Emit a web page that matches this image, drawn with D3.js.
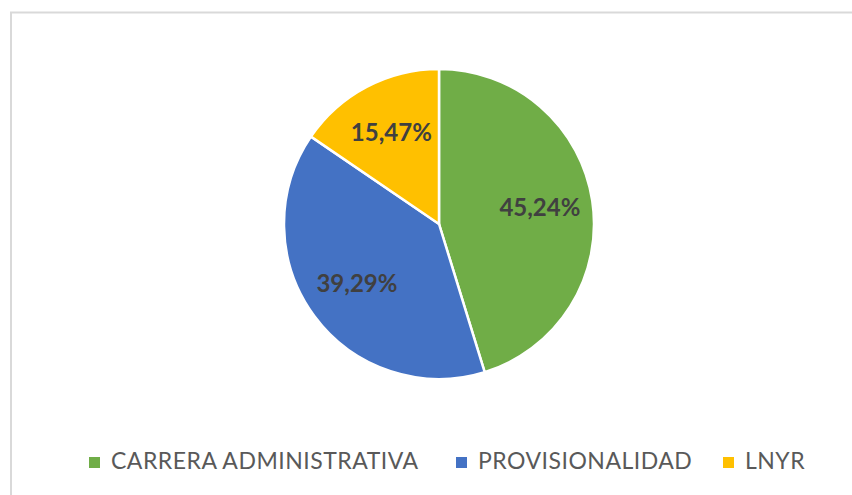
<!DOCTYPE html>
<html>
<head>
<meta charset="utf-8">
<script src="https://cdn.jsdelivr.net/npm/d3@7"></script>
<style>
  body { margin: 0; background: #fff; }
  text { font-family: Lato, "Open Sans", sans-serif; }
</style>
</head>
<body>
<script>
// data
var categories = ["CARRERA ADMINISTRATIVA", "PROVISIONALIDAD", "LNYR"];
var values = [45.24, 39.29, 15.47];
var colors = ["#70ad47", "#4472c4", "#ffc000"];

var w = 852, h = 495;
var cx = 439, cy = 224, r = 155;

var svg = d3.select("body").append("svg")
  .attr("width", w)
  .attr("height", h);

// chart frame (only left and top edges visible)
svg.append("path")
  .attr("d", "M11," + h + " V12.5 H" + w)
  .attr("fill", "none")
  .attr("stroke", "#d9d9d9")
  .attr("stroke-width", 2);

var data = categories.map(function(c, i) { return {name: c, value: values[i], color: colors[i]}; });

var pie = d3.pie().sort(null).value(function(d) { return d.value; });
var arc = d3.arc().innerRadius(0).outerRadius(r);
var labelArc = d3.arc().innerRadius(102).outerRadius(102);

var g = svg.append("g").attr("transform", "translate(" + cx + "," + cy + ")");

var arcs = pie(data);

g.selectAll("path.slice")
  .data(arcs)
  .enter()
  .append("path")
    .attr("class", "slice")
    .attr("d", arc)
    .attr("fill", function(d) { return d.data.color; })
    .attr("stroke", "#fff")
    .attr("stroke-width", 2.5);

g.selectAll("text.lbl")
  .data(arcs)
  .enter()
  .append("text")
    .attr("class", "lbl")
    .attr("transform", function(d) { return "translate(" + labelArc.centroid(d) + ")"; })
    .attr("text-anchor", "middle")
    .attr("dy", "0.3em")
    .attr("font-size", 24)
    .attr("font-weight", "bold")
    .attr("fill", "#404040")
    .text(function(d) { return d.data.value.toFixed(2).replace(".", ",") + "%"; });

// legend
var legendX = [89, 456, 723];
var legend = svg.append("g");
var items = legend.selectAll("g")
  .data(data)
  .enter()
  .append("g")
    .attr("transform", function(d, i) { return "translate(" + legendX[i] + ",457)"; });

items.append("rect")
  .attr("width", 11)
  .attr("height", 11)
  .attr("fill", function(d) { return d.color; });

items.append("text")
  .attr("x", 22)
  .attr("y", 11.5)
  .attr("font-size", 23)
  .attr("letter-spacing", 0.5)
  .attr("fill", "#595959")
  .text(function(d) { return d.name; });
</script>
</body>
</html>
